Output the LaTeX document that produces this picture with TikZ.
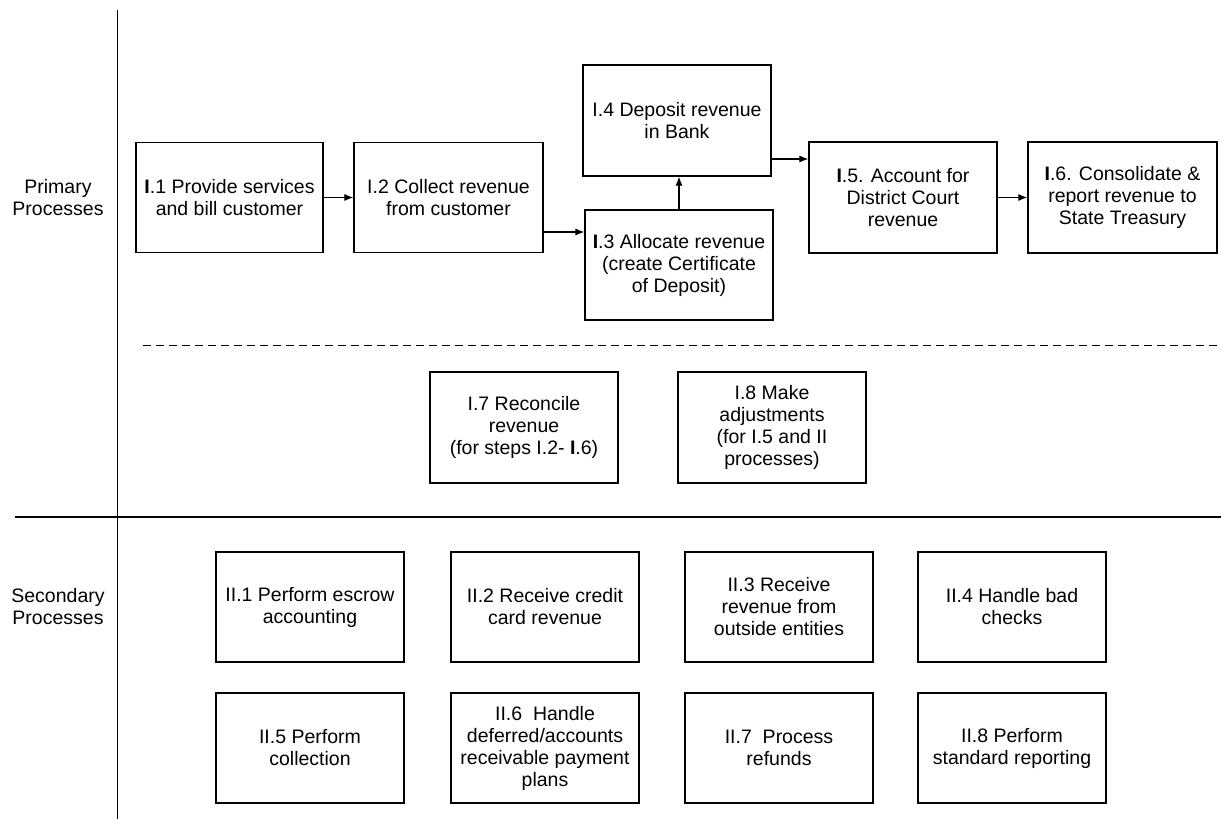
\documentclass[tikz,border=0pt]{standalone}
\usepackage{fontspec}
\setmainfont{Liberation Sans}
\usetikzlibrary{arrows.meta}
\begin{document}
\begin{tikzpicture}[x=1pt,y=-1pt,
  every node/.style={font=\fontsize{19.5}{22}\selectfont},
  procbox/.style={draw=black,line width=1.2pt,minimum width=188pt,minimum height=110pt,
    inner sep=0pt,align=center},
  lane/.style={draw=black,line width=1.2pt},
  flow/.style={draw=black,line width=1.1pt,-{Latex[length=9pt,width=7pt]}},
  lanelabel/.style={align=center,inner sep=0pt}]
\useasboundingbox (0,0) rectangle (1221,819);

% swimlane frame
\draw[lane] (117.5,10) -- (117.5,819);
\draw[lane] (15,517) -- (1221,517);
\draw[lane,line width=1pt,dash pattern=on 8pt off 5pt] (143,345) -- (1221,345);

\node[lanelabel] (prim) at (58,198) {Primary\\Processes};
\node[lanelabel] (sec) at (58,607) {Secondary\\Processes};

% primary processes
\node[procbox,minimum width=187pt] (I1) at (229.5,197.5) {\textbf{I}.1 Provide services\\and bill customer};
\node[procbox,minimum width=189pt] (I2) at (448.5,197.5) {I.2 Collect revenue\\from customer};
\node[procbox] (I3) at (679,265) {\textbf{I}.3 Allocate revenue\\(create Certificate\\of Deposit)};
\node[procbox,minimum height=111pt] (I4) at (677,120.5) {I.4 Deposit revenue\\in Bank};
\node[procbox,minimum height=111pt] (I5) at (903,197.5) {\textbf{I}.5. Account for\\District Court\\revenue};
\node[procbox,minimum width=189pt,minimum height=111pt] (I6) at (1122.5,197.5) {\textbf{I}.6. Consolidate \&\\report revenue to\\State Treasury};

\node[procbox,minimum height=111pt] (I7) at (524,427.5) {I.7 Reconcile\\revenue\\(for steps I.2- \textbf{I}.6)};
\node[procbox,minimum height=111pt] (I8) at (772,427.5) {I.8 Make\\adjustments\\(for I.5 and II\\processes)};

% secondary processes
\node[procbox] (II1) at (310,607) {II.1 Perform escrow\\accounting};
\node[procbox] (II2) at (545,607) {II.2 Receive credit\\card revenue};
\node[procbox] (II3) at (779,607) {II.3 Receive\\revenue from\\outside entities};
\node[procbox] (II4) at (1012,607) {II.4 Handle bad\\checks};
\node[procbox] (II5) at (310,748) {II.5 Perform\\collection};
\node[procbox] (II6) at (545,748) {II.6\ \ Handle\\deferred/accounts\\receivable payment\\plans};
\node[procbox] (II7) at (779,748) {II.7\ \ Process\\refunds};
\node[procbox] (II8) at (1012,748) {II.8 Perform\\standard reporting};

% flow of the primary processes
\draw[flow] (I1.east) -- (I2.west);
\draw[flow] (I2.east |- 0,232) -- (I3.west |- 0,232);
\draw[flow] (I3.north) -- (I3.north |- I4.south);
\draw[flow] (I4.east |- 0,159) -- (I5.west |- 0,159);
\draw[flow] (I5.east) -- (I6.west);
\end{tikzpicture}
\end{document}
